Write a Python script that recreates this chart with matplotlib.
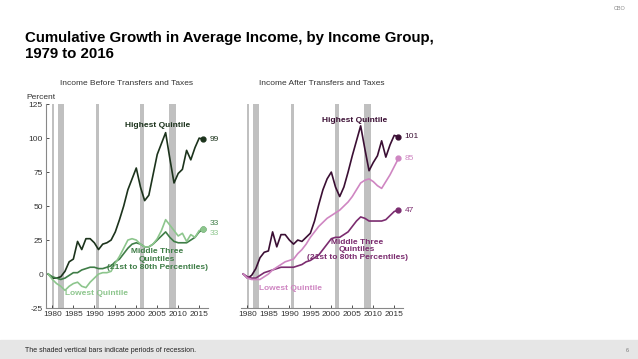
import matplotlib
matplotlib.use('Agg')
import matplotlib.pyplot as plt
from matplotlib.patches import Rectangle
import numpy as np

plt.rcParams['font.family'] = ['Liberation Sans', 'DejaVu Sans']
plt.rcParams['axes.unicode_minus'] = False

years = np.arange(1979, 2017)

# before transfers and taxes
before_high = [0, -3, -3, -2, 2, 9, 11, 24, 18, 26, 26, 23, 18, 22, 23, 25, 31, 40, 50, 62,
               70, 78, 64, 54, 58, 73, 88, 96, 104, 85, 67, 74, 77, 91, 84, 93, 100, 99]
before_mid = [0, -2, -3, -4, -3, -1, 1, 1, 3, 4, 5, 5, 4, 4, 5, 6, 9, 11, 15, 19,
              22, 23, 22, 20, 20, 22, 25, 28, 31, 27, 24, 23, 23, 23, 25, 27, 31, 33]
before_low = [0, -4, -7, -9, -12, -9, -7, -6, -9, -10, -6, -3, 0, 1, 1, 2, 8, 13, 19, 25,
              26, 25, 22, 20, 20, 22, 26, 32, 40, 36, 32, 28, 30, 24, 29, 27, 32, 33]

# after transfers and taxes
after_high = [0, -3, -1, 4, 12, 16, 17, 31, 20, 29, 29, 25, 22, 25, 24, 27, 30, 39, 51, 62,
              70, 75, 64, 57, 64, 75, 87, 98, 109, 92, 76, 82, 87, 98, 86, 95, 102, 101]
after_mid = [0, -2, -3, -3, -1, 1, 2, 3, 4, 5, 5, 5, 5, 6, 7, 9, 10, 12, 14, 18,
             22, 26, 27, 27, 29, 31, 35, 39, 42, 41, 39, 39, 39, 39, 40, 43, 46, 47]
after_low = [0, -3, -4, -4, -4, -2, 0, 3, 5, 7, 9, 10, 11, 15, 18, 22, 27, 31, 35, 38,
             41, 43, 45, 47, 50, 53, 57, 62, 67, 69, 70, 68, 65, 63, 68, 73, 79, 85]

recessions = [(1979.8, 1980.4), (1981.4, 1982.7), (1990.3, 1991.1), (2000.9, 2001.8), (2007.9, 2009.5)]

greens = ['#1c331c', '#3f7d47', '#8dc68d']
purples = ['#3b0f34', '#7b2c6f', '#cf86c2']

fig = plt.figure(figsize=(6.38, 3.59), dpi=100)

ax1 = fig.add_axes([0.0716, 0.142, 0.2544, 0.568])
ax2 = fig.add_axes([0.3773, 0.142, 0.2544, 0.568])

panels = [
    (ax1, [before_high, before_mid, before_low], greens, 'Income Before Transfers and Taxes'),
    (ax2, [after_high, after_mid, after_low], purples, 'Income After Transfers and Taxes'),
]

for ax, series, cols, title in panels:
    for a, b in recessions:
        ax.axvspan(a, b, color='#c0c0c0', lw=0, zorder=0)
    for vals, c in zip(series, cols):
        ax.plot(years, vals, color=c, lw=1.2, zorder=3)
        ax.plot(years[-1], vals[-1], 'o', color=c, ms=3.5, zorder=4)
    ax.set_xlim(1978.4, 2017.1)
    ax.set_ylim(-25, 125)
    ax.set_xticks(range(1980, 2016, 5))
    ax.set_yticks(range(-25, 126, 25))
    ax.tick_params(labelsize=6, colors='#333333', length=2, width=0.6, direction='in', pad=2)
    for s in ['top', 'right']:
        ax.spines[s].set_visible(False)
    ax.spines['bottom'].set_color('#888888')
    ax.spines['left'].set_color('#888888')
    ax.set_title(title, fontsize=6, color='#333333', pad=14)

ax2.spines['left'].set_visible(False)
ax2.tick_params(axis='y', left=False, labelleft=False)

ax1.text(-0.12, 1.025, 'Percent', transform=ax1.transAxes, fontsize=6, color='#333333')

# left panel labels
ax1.text(2005, 108, 'Highest Quintile', color=greens[0], fontsize=6, fontweight='bold', ha='center')
ax1.text(2017.5, 99, '99', color=greens[0], fontsize=6, va='center')
ax1.text(2017.5, 37.5, '33', color=greens[1], fontsize=6, va='center')
ax1.text(2017.5, 30, '33', color=greens[2], fontsize=6, va='center')
ax1.text(2005, 19, 'Middle Three\nQuintiles\n(21st to 80th Percentiles)', color=greens[1],
         fontsize=6, fontweight='bold', ha='center', va='top', linespacing=1.15)
ax1.text(1990.5, -14.5, 'Lowest Quintile', color=greens[2], fontsize=6, fontweight='bold',
         ha='center', va='center')

# right panel labels
ax2.text(2005.5, 112, 'Highest Quintile', color=purples[0], fontsize=6, fontweight='bold', ha='center')
ax2.text(2017.5, 101, '101', color=purples[0], fontsize=6, va='center')
ax2.text(2017.5, 85, '85', color=purples[2], fontsize=6, va='center')
ax2.text(2017.5, 47, '47', color=purples[1], fontsize=6, va='center')
ax2.text(2006.2, 26, 'Middle Three\nQuintiles\n(21st to 80th Percentiles)', color=purples[1],
         fontsize=6, fontweight='bold', ha='center', va='top', linespacing=1.15)
ax2.text(1990.2, -10.5, 'Lowest Quintile', color=purples[2], fontsize=6, fontweight='bold',
         ha='center', va='center')

fig.text(25 / 638, 1 - 46 / 359, 'Cumulative Growth in Average Income, by Income Group,\n1979 to 2016',
         fontsize=10.8, fontweight='bold', color='black', va='center', linespacing=1.2)
fig.text(620 / 638, 1 - 9 / 359, 'CBO', fontsize=4, color='#888888', ha='center', va='center')

fig.patches.append(Rectangle((0, 0), 1, 19 / 359, transform=fig.transFigure, color='#e6e6e6', zorder=0))
fig.text(25 / 638, 9 / 359, 'The shaded vertical bars indicate periods of recession.', fontsize=5,
         color='#222222', va='center')
fig.text(627 / 638, 9 / 359, '6', fontsize=4, color='#777777', va='center', ha='center')

fig.savefig('out.png', dpi=100)
